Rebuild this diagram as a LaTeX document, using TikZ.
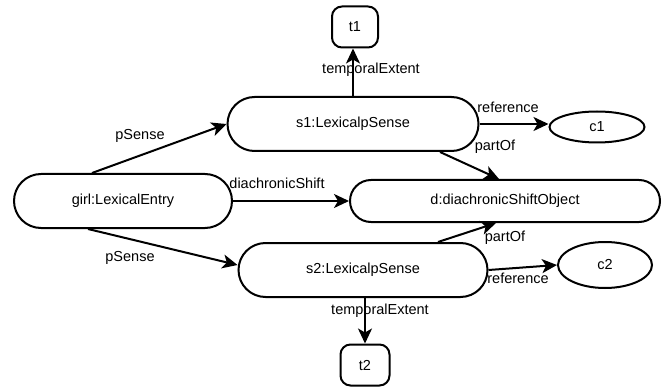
\documentclass[tikz,border=0pt]{standalone}
\usepackage{fontspec}
\setmainfont{Liberation Sans}
\usetikzlibrary{arrows.meta,shapes.geometric}
\tikzset{
  stad/.style={rectangle, draw=black, fill=white, line width=2pt, minimum height=54pt, rounded corners=27pt, inner sep=0pt, font=\fontsize{14.5}{16}\selectfont},
  dstad/.style={rectangle, draw=black, fill=white, line width=2pt, minimum height=42pt, rounded corners=21pt, inner sep=0pt, font=\fontsize{14.5}{16}\selectfont},
  tbox/.style={rectangle, draw=black, fill=white, line width=2pt, minimum width=46pt, minimum height=41pt, rounded corners=10pt, inner sep=0pt, font=\fontsize{14.5}{16}\selectfont},
  ell/.style={ellipse, draw=black, fill=white, line width=2pt, inner sep=0pt, font=\fontsize{14.5}{16}\selectfont},
  arr/.style={draw=black, line width=2pt, -{Stealth[length=15pt,width=14pt,inset=4pt]}},
  lbl/.style={font=\fontsize{14.5}{16}\selectfont, inner sep=0pt}
}
\begin{document}
\begin{tikzpicture}[x=1pt,y=-1pt]
  \useasboundingbox (0,0) rectangle (666,390);
  % entities
  \node[stad, minimum width=218pt] (girl) at (123,201) {girl:LexicalEntry};
  \node[stad, minimum width=251pt] (s1) at (353,124) {s1:LexicalpSense};
  \node[stad, minimum width=249pt] (s2) at (363,270) {s2:LexicalpSense};
  \node[dstad, minimum width=310pt] (d) at (505,201) {d:diachronicShiftObject};
  \node[tbox] (t1) at (355,27) {t1};
  \node[tbox, minimum width=49pt] (t2) at (365,365) {t2};
  \node[ell, minimum width=95pt, minimum height=31pt] (c1) at (597,127) {c1};
  \node[ell, minimum width=94pt, minimum height=46pt] (c2) at (605,265) {c2};
  % edges
  \draw[arr] ([xshift=-31pt]girl.north) -- (s1.west);
  \draw[arr] ([xshift=-35pt]girl.south) -- ([yshift=5pt]s2.west);
  \draw[arr] (girl.east) -- (d.west);
  \draw[arr] (s1.north) -- (s1.north |- t1.south);
  \draw[arr] (s1.east) -- (s1.east -| c1.west);
  \draw[arr] ([xshift=87pt]s1.south) -- ([xshift=-6pt]d.north);
  \draw[arr] ([xshift=75pt]s2.north) -- ([xshift=-9pt]d.south);
  \draw[arr] (s2.east) -- (c2.west);
  \draw[arr] ([xshift=2pt]s2.south) -- ([xshift=2pt]s2.south |- t2.north);
  % labels
  \node[lbl] (lps1) at (140,136) {pSense};
  \node[lbl] (lps2) at (130,258) {pSense};
  \node[lbl] (ldia) at (277,183) {diachronicShift};
  \node[lbl] (lte1) at (371,70) {temporalExtent};
  \node[lbl] (lre1) at (508,107) {reference};
  \node[lbl] (lpo1) at (495,147) {partOf};
  \node[lbl] (lpo2) at (505,238) {partOf};
  \node[lbl] (lre2) at (518,278) {reference};
  \node[lbl] (lte2) at (380,311) {temporalExtent};
\end{tikzpicture}
\end{document}
